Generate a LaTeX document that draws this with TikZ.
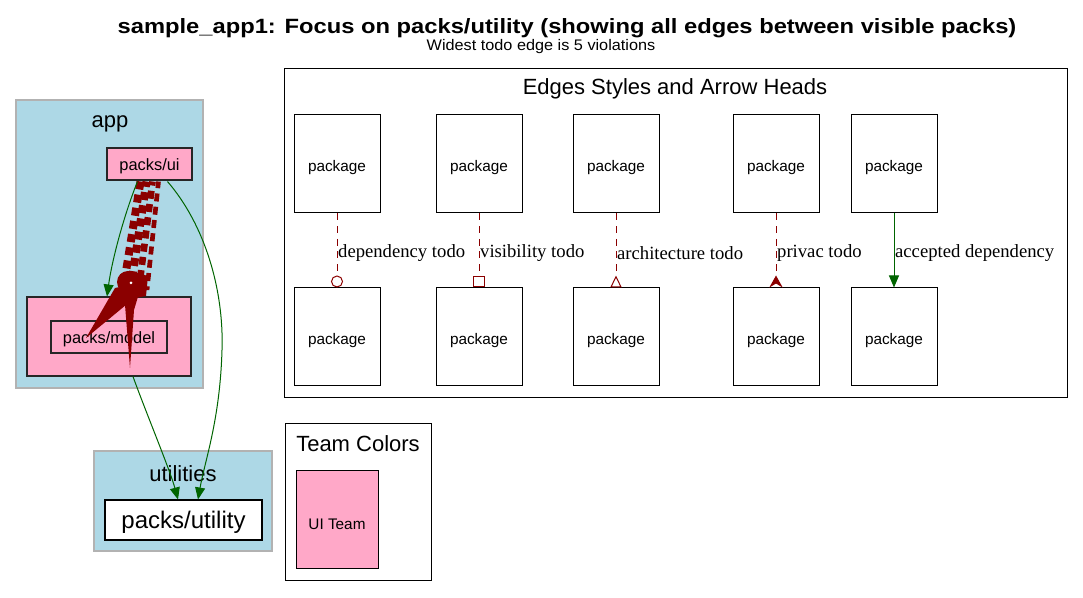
\documentclass[tikz,border=0pt]{standalone}
\usepackage{fontspec}
\usepackage{graphicx}
\setmainfont{Liberation Sans}
\newfontfamily\seriffont{Liberation Serif}
\usetikzlibrary{arrows.meta,fit,calc}
\definecolor{lblue}{HTML}{ADD8E6}
\definecolor{tpink}{HTML}{FFA8C8}
\definecolor{dgreen}{HTML}{006400}
\definecolor{dred}{HTML}{8B0000}
\tikzset{
  cluster/.style={fill=lblue, draw=black!30, line width=0.9pt, inner sep=0pt},
  pinkbox/.style={fill=tpink, draw=black!85, line width=0.8pt, inner sep=0pt},
  whitebox/.style={fill=white, draw=black, line width=0.8pt, inner sep=0pt},
  legbox/.style={fill=white, draw=black, line width=0.75pt, inner sep=0pt},
  pkgbox/.style={draw=black, line width=0.75pt, inner sep=0pt},
  pkgfont/.style={font=\fontsize{11.5pt}{13pt}\selectfont, yshift=-3pt},
  nodefont/.style={font=\fontsize{12.3pt}{14pt}\selectfont, yshift=-1.5pt},
  todo/.style={draw=dred, line width=0.75pt, dash pattern=on 5.2pt off 4.3pt},
  accepted/.style={draw=dgreen, line width=0.75pt},
  elabel/.style={font=\seriffont\fontsize{14pt}{16pt}\selectfont, anchor=west, inner sep=0.5pt, text=black, yshift=-2pt},
  heavy/.style={draw=dred, dash pattern=on 6pt off 4pt},
}
\begin{document}
\begin{tikzpicture}[x=0.75pt,y=-0.75pt]
\useasboundingbox (0,0) rectangle (1083,598);
% titles
\node[font=\bfseries\fontsize{15.5pt}{17pt}\selectfont, inner sep=0pt] (title) at (567,28) {\scalebox{1.148}[1]{sample\_app1: Focus on packs/utility (showing all edges between visible packs)}};
\node[font=\fontsize{11.5pt}{13pt}\selectfont, inner sep=0pt] (subtitle) at (541,47) {\scalebox{1.06}[1]{Widest todo edge is 5 violations}};

% app cluster
\node[cluster, fit={(16,100) (203,388)}] (app) {};
\node[font=\fontsize{16.5pt}{18pt}\selectfont] (applbl) at (110,124) {app};
\node[pinkbox, fit={(107,148) (192,180)}, label={[nodefont]center:packs/ui}] (ui) {};
\node[pinkbox, fit={(27,297) (191,376)}] (modelc) {};
\node[pinkbox, fit={(51,321) (167,353)}, label={[nodefont]center:packs/model}] (model) {};

% utilities cluster
\node[cluster, fit={(94,451) (272,551)}] (util) {};
\node[font=\fontsize{16.5pt}{18pt}\selectfont] (utillbl) at (183,474) {utilities};
\node[whitebox, fit={(105,500) (262,540)}, label={[font=\fontsize{18pt}{20pt}\selectfont, yshift=-1.5pt]center:packs/utility}] (utility) {};

% heavy todo edges ui -> model
\draw[heavy, line width=6pt] ($(ui.south)+(-9,1)$) -- (124,284);
\draw[heavy, line width=6pt, dash phase=2pt] ($(ui.south)+(-3,1)$) -- (131,286);
\draw[heavy, line width=5pt, dash phase=3pt] ($(ui.south)+(3,1)$) -- (139,288);
\draw[heavy, line width=3.5pt, dash phase=1pt] ($(ui.south)+(9,1)$) -- (147,290);
% big heads
\fill[dred] (128,282) circle (11);
\fill[white] (131,283) circle (1.5);
\fill[dred] (115,288) -- (140,283) -- (132,300) -- (86,338) -- cycle;
\fill[dred] (124,292) -- (140,290) -- (134,310) -- (130,368) -- cycle;
\fill[dred] (134,272) -- (148,276) -- (146,296) -- (136,298) -- cycle;

% green edges
\draw[accepted, -{Triangle[length=9pt,width=7.5pt]}] ($(ui.south)+(-12,1)$) .. controls (124,215) and (112,260) .. (modelc.north -| 107,0);
\draw[accepted, -{Triangle[length=9pt,width=7.5pt]}] ($(ui.south)+(18,1)$) .. controls (205,225) and (224,290) .. (222,350) .. controls (220,420) and (205,460) .. (utility.north -| 198,0);
\draw[accepted, -{Triangle[length=9pt,width=7.5pt]}] (modelc.south -| 133,0) .. controls (145,410) and (170,470) .. (utility.north -| 178,0);

% legend
\node[legbox, fit={(284,69) (1067,398)}] (legend) {};
\node[font=\fontsize{16.5pt}{18pt}\selectfont] (legtitle) at (675,89) {Edges Styles and Arrow Heads};
\foreach \i/\x in {1/294,2/436,3/573,4/733,5/851}{
  \node[pkgbox, fit={(\x,115) (\x+86,213)}, label={[pkgfont]center:package}] (t\i) {};
  \node[pkgbox, fit={(\x,288) (\x+86,386)}, label={[pkgfont]center:package}] (b\i) {};
}
\draw[todo, -{Circle[open,length=9pt,width=9pt,line width=0.75pt,sep=0pt]}] (t1.south) -- (b1.north) node[elabel, pos=0.5] {dependency todo};
\draw[todo, -{Square[open,length=8.5pt,width=8.5pt,line width=0.75pt]}] (t2.south) -- (b2.north) node[elabel, pos=0.5] {visibility todo};
\draw[todo, -{Triangle[open,reversed,length=9pt,width=8.5pt,line width=0.75pt]}] (t3.south) -- (b3.north) node[elabel, pos=0.5] {architecture todo};
\draw[todo, -{Stealth[reversed,length=9pt,width=10pt,inset=3pt,line width=0.75pt]}] (t4.south) -- (b4.north) node[elabel, pos=0.5] {privac todo};
\draw[accepted, -{Triangle[length=9pt,width=7.5pt]}] (t5.south) -- (b5.north) node[elabel, pos=0.5] {accepted dependency};

% team colors
\node[legbox, fit={(285,424) (431,581)}] (team) {};
\node[font=\fontsize{16.5pt}{18pt}\selectfont] (teamtitle) at (358,444) {Team Colors};
\node[pkgbox, fill=tpink, fit={(296,471) (378,569)}, label={[pkgfont]center:UI Team}] (uiteam) {};
\end{tikzpicture}
\end{document}
